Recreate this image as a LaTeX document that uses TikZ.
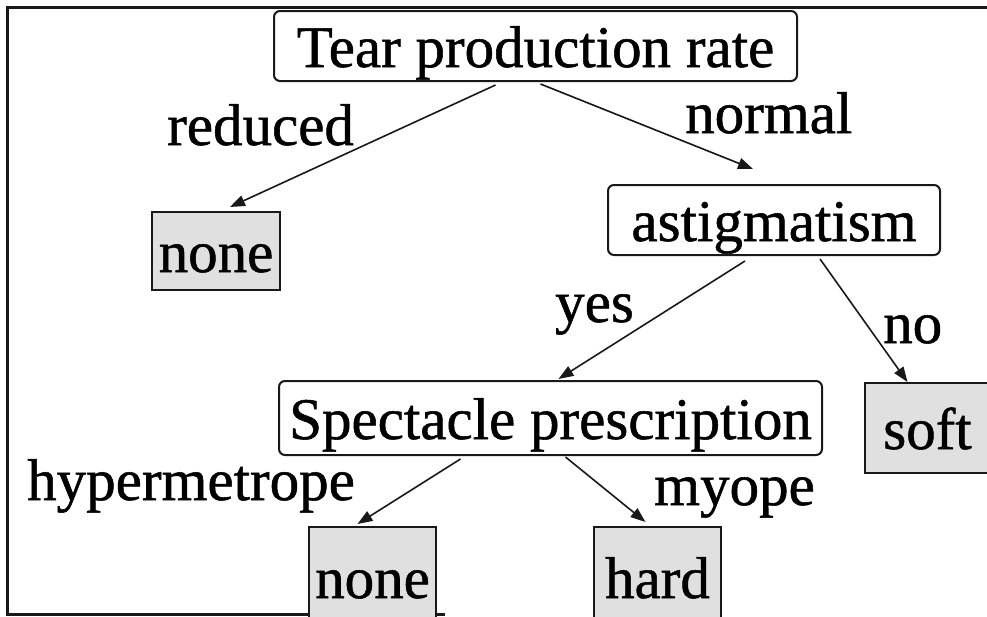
\documentclass[tikz,border=0pt]{standalone}
\usepackage{fontspec}
\setmainfont{Liberation Serif}[FakeBold=0.9]
\usetikzlibrary{arrows.meta,calc}
\definecolor{leafgray}{RGB}{224,224,224}
\definecolor{ink}{RGB}{25,25,25}
\begin{document}
\begin{tikzpicture}[x=1pt,y=-1pt,
  big/.style={font=\fontsize{59}{70}\selectfont},
  test/.style={big, draw=ink, line width=2pt, rounded corners=6pt, inner sep=0pt,
               text height=44pt, text depth=2pt},
  leaf/.style={big, draw=ink, line width=2pt, fill=leafgray, inner sep=0pt,
               text height=44pt, text depth=2pt},
  branch/.style={big, inner sep=0pt, anchor=base west},
  edge/.style={draw=ink, line width=1.6pt, -{Triangle[length=15pt,width=11pt]}}]
\useasboundingbox (0,0) rectangle (987,616);

% outer frame
\draw[ink, line width=3pt] (995,7) -- (7,7) -- (7,614) -- (445,614);

% decision nodes
\node[test, minimum width=523pt, minimum height=70pt] (root)  at (535.5,46) {Tear production rate};
\node[test, minimum width=332pt, minimum height=70pt] (astig) at (774,220)  {astigmatism};
\node[test, minimum width=543pt, minimum height=74pt] (spec)  at (550.5,418) {Spectacle prescription};

% leaves
\node[leaf, minimum width=128pt, minimum height=78pt]  (noneA) at (216,251)   {none};
\node[leaf, minimum width=125pt, minimum height=90pt]  (soft)  at (927.5,428) {soft};
\node[leaf, minimum width=127pt, minimum height=100pt] (noneB) at (372.5,577) {none};
\node[leaf, minimum width=127pt, minimum height=100pt] (hard)  at (657.5,577) {hard};

% branches
\draw[edge] ($(root.south)+(-40,3)$)  -- ($(noneA.north)+(14,-4)$);
\draw[edge] ($(root.south)+(5,2)$)    -- ($(astig.north)+(-21,-15)$);
\draw[edge] ($(astig.south)+(-29,5)$) -- ($(spec.north)+(8,-1)$);
\draw[edge] ($(astig.south)+(46,3)$)  -- ($(soft.north)+(-20,0)$);
\draw[edge] ($(spec.south)+(-90,3)$)  -- ($(noneB.north)+(-15,-2)$);
\draw[edge] ($(spec.south)+(15,1)$)   -- ($(hard.north)+(-12,-4)$);

% branch labels
\node[branch] (lreduced) at (167,145) {reduced};
\node[branch] (lnormal)  at (685,133) {normal};
\node[branch] (lyes)     at (555,322) {yes};
\node[branch] (lno)      at (883,343) {no};
\node[branch] (lhyper)   at (27,500)  {hypermetrope};
\node[branch] (lmyope)   at (654,505) {myope};
\end{tikzpicture}
\end{document}
